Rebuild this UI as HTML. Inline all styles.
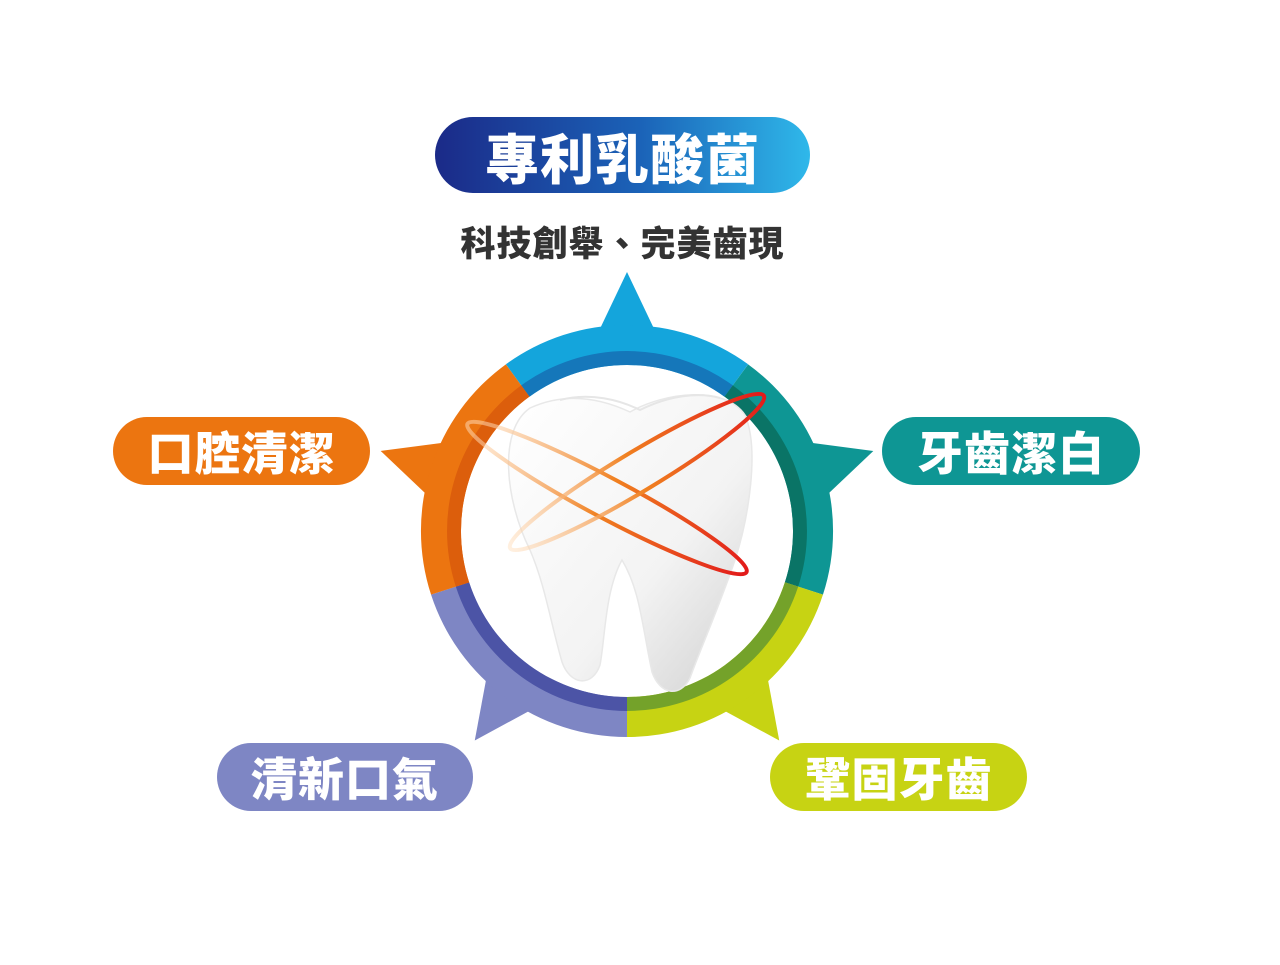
<!DOCTYPE html>
<html><head><meta charset="utf-8"><style>
body{margin:0;width:1280px;height:965px;background:#fff;overflow:hidden;position:relative;font-family:"Liberation Sans","Noto Sans CJK TC",sans-serif}
.pill{position:absolute;border-radius:40px;color:#fff;font-weight:900;display:flex;align-items:center;justify-content:center;letter-spacing:1px}
</style></head><body>
<svg width="1280" height="965" style="position:absolute;left:0;top:0">
<defs>
<linearGradient id="tg" x1="0" y1="0" x2="1" y2="1"><stop offset="0" stop-color="#ffffff"/><stop offset="0.6" stop-color="#f3f3f3"/><stop offset="1" stop-color="#d0d0d0"/></linearGradient>
<linearGradient id="og" x1="0" y1="0" x2="1" y2="0"><stop offset="0" stop-color="#ffe0c0" stop-opacity="0.5"/><stop offset="0.5" stop-color="#f08020"/><stop offset="1" stop-color="#e21a1a"/></linearGradient>
</defs>
<g transform="translate(627,531)">
<polygon points="0,-259 -30,-196 30,-196" fill="#14a5dc"/>
<polygon points="0,-259 -30,-196 30,-196" fill="#0e9694" transform="rotate(72)"/>
<polygon points="0,-259 -30,-196 30,-196" fill="#c7d313" transform="rotate(144)"/>
<polygon points="0,-259 -30,-196 30,-196" fill="#7e86c4" transform="rotate(216)"/>
<polygon points="0,-259 -30,-196 30,-196" fill="#ec7510" transform="rotate(288)"/>
<g><path d="M-121.1,-166.7 A206,206 0 0 1 121.1,-166.7 L97.6,-134.3 A166,166 0 0 0 -97.6,-134.3Z" fill="#14a5dc"/><path d="M-105.8,-145.6 A180,180 0 0 1 105.8,-145.6 L97.6,-134.3 A166,166 0 0 0 -97.6,-134.3Z" fill="#1577ba"/></g>
<g transform="rotate(72)"><path d="M-121.1,-166.7 A206,206 0 0 1 121.1,-166.7 L97.6,-134.3 A166,166 0 0 0 -97.6,-134.3Z" fill="#0e9694"/><path d="M-105.8,-145.6 A180,180 0 0 1 105.8,-145.6 L97.6,-134.3 A166,166 0 0 0 -97.6,-134.3Z" fill="#0a7466"/></g>
<g transform="rotate(144)"><path d="M-121.1,-166.7 A206,206 0 0 1 121.1,-166.7 L97.6,-134.3 A166,166 0 0 0 -97.6,-134.3Z" fill="#c7d313"/><path d="M-105.8,-145.6 A180,180 0 0 1 105.8,-145.6 L97.6,-134.3 A166,166 0 0 0 -97.6,-134.3Z" fill="#74a22a"/></g>
<g transform="rotate(216)"><path d="M-121.1,-166.7 A206,206 0 0 1 121.1,-166.7 L97.6,-134.3 A166,166 0 0 0 -97.6,-134.3Z" fill="#7e86c4"/><path d="M-105.8,-145.6 A180,180 0 0 1 105.8,-145.6 L97.6,-134.3 A166,166 0 0 0 -97.6,-134.3Z" fill="#4c54a6"/></g>
<g transform="rotate(288)"><path d="M-121.1,-166.7 A206,206 0 0 1 121.1,-166.7 L97.6,-134.3 A166,166 0 0 0 -97.6,-134.3Z" fill="#ec7510"/><path d="M-105.8,-145.6 A180,180 0 0 1 105.8,-145.6 L97.6,-134.3 A166,166 0 0 0 -97.6,-134.3Z" fill="#dc5e0c"/></g>
</g>
<!-- tooth -->
<path d="M530,408 C565,392 600,398 630,412 C665,392 725,385 745,415 C760,450 748,520 735,560 C718,610 700,650 690,678 C680,698 660,695 652,672 C642,625 640,590 622,560 C605,590 605,640 600,665 C592,688 570,685 562,662 C550,620 545,585 530,550 C505,500 498,430 530,408Z" fill="url(#tg)" stroke="#e8e8e8" stroke-width="1.5"/>
<path d="M560,400 C590,392 620,400 640,410 C670,395 700,392 720,398" fill="none" stroke="#e6e6e6" stroke-width="2"/>
<!-- orbits -->
<ellipse cx="607" cy="498" rx="158" ry="20" transform="rotate(28 607 498)" fill="none" stroke="url(#og)" stroke-width="4"/>
<ellipse cx="637" cy="472" rx="148" ry="20" transform="rotate(-31 637 472)" fill="none" stroke="url(#og)" stroke-width="4"/>
</svg>
<div class="pill" style="left:435px;top:117px;width:375px;height:76px;background:linear-gradient(90deg,#1b2a88,#1b63b8 55%,#2fb8ea);font-size:54px">專利乳酸菌</div>
<div style="position:absolute;left:400px;top:216px;width:445px;text-align:center;font-size:35px;font-weight:900;color:#333;letter-spacing:1px">科技創舉、完美齒現</div>
<div class="pill" style="left:113px;top:417px;width:257px;height:68px;background:#ec7510;font-size:46px">口腔清潔</div>
<div class="pill" style="left:882px;top:417px;width:258px;height:68px;background:#0e9694;font-size:46px">牙齒潔白</div>
<div class="pill" style="left:217px;top:743px;width:256px;height:68px;background:#7e86c4;font-size:46px">清新口氣</div>
<div class="pill" style="left:770px;top:743px;width:257px;height:68px;background:#c7d313;font-size:46px">鞏固牙齒</div>
</body></html>
